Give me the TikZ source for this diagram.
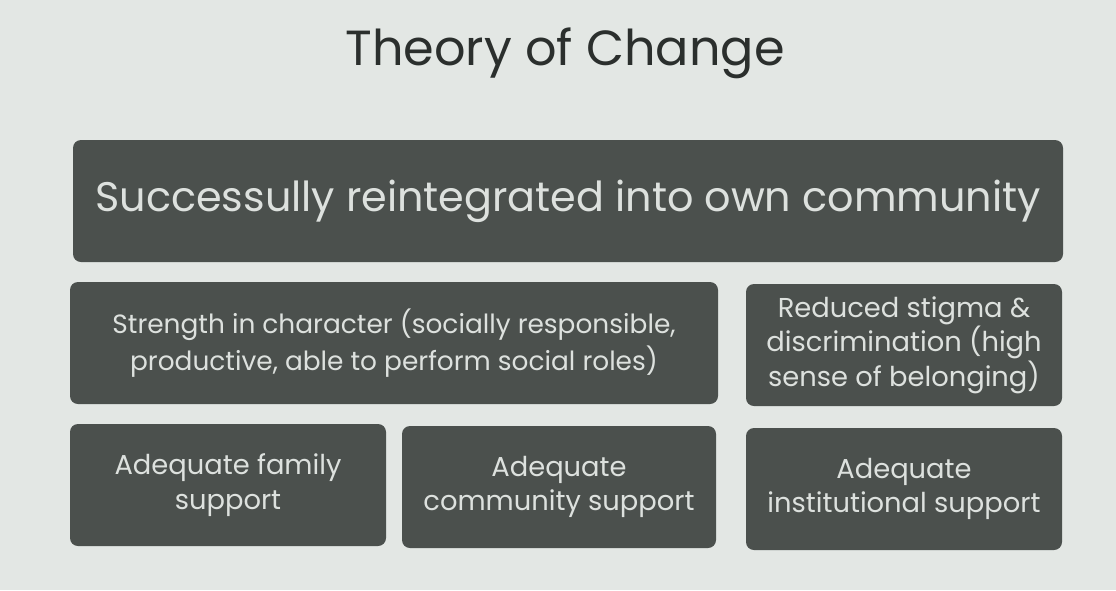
\documentclass[tikz,border=0pt]{standalone}
\usepackage{fontspec}
\setmainfont{Poppins}
\usepackage{tikz}

\definecolor{slidebg}{HTML}{E3E7E4}
\definecolor{boxfill}{HTML}{4B504D}
\definecolor{boxtext}{HTML}{DDE1DE}
\definecolor{titletext}{HTML}{2B2F2D}

\begin{document}
\begin{tikzpicture}[x=0.75pt, y=-0.75pt,
  block/.style={fill=boxfill, rounded corners=6pt, text=boxtext, align=center,
    minimum height=91.5pt, inner sep=0pt},
  bigtext/.style={font=\fontsize{31}{36}\selectfont},
  midtext/.style={font=\fontsize{19.8}{27.5}\selectfont},
  smalltext/.style={font=\fontsize{20.5}{26}\selectfont}]
%slide background
\fill[slidebg] (0,0) rectangle (1116,590);
\useasboundingbox (0,0) rectangle (1116,590);
%title
\node[font=\fontsize{37}{44}\selectfont, text=titletext] (title) at (565,53) {Theory of Change};
%top row
\node[block, bigtext, minimum width=742.5pt] (goal) at (568,201) {Successully reintegrated into own community};
%middle row
\node[block, midtext, minimum width=486pt] (character) at (394,343) {Strength in character (socially responsible,\\ productive, able to perform social roles)};
\node[block, smalltext, minimum width=237pt] (stigma) at (904,345) {Reduced stigma \&\\ discrimination (high\\ sense of belonging)};
%bottom row
\node[block, smalltext, minimum width=237pt] (family) at (228,485) {Adequate family\\ support};
\node[block, smalltext, minimum width=235.5pt] (community) at (559,487) {Adequate\\ community support};
\node[block, smalltext, minimum width=237pt] (institution) at (904,489) {Adequate\\ institutional support};
\end{tikzpicture}
\end{document}
